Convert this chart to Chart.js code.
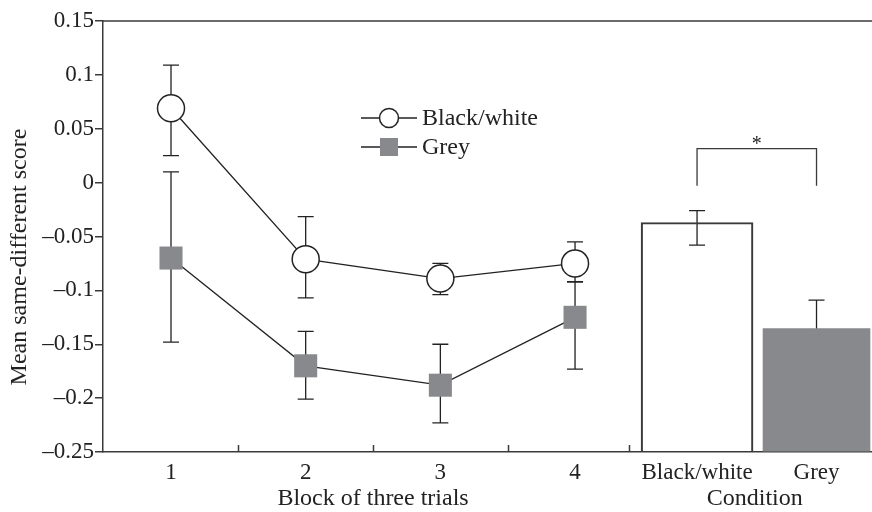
<!DOCTYPE html>
<html>
<head>
<meta charset="utf-8">
<script src="https://cdn.jsdelivr.net/npm/chart.js@4/dist/chart.umd.min.js"></script>
<style>
  html, body { margin: 0; padding: 0; background: #fff; }
  #wrap { width: 872px; height: 512px; position: relative; }
</style>
</head>
<body>
<div id="wrap"><canvas id="chart"></canvas></div>
<script>
// Blocks of three trials (left panel)
const blocks = ['1', '2', '3', '4'];
const bwMeans = [0.069, -0.071, -0.089, -0.075];
const bwUpper = [0.109, -0.0315, -0.075, -0.055];
const bwLower = [0.025, -0.107, -0.104, -0.092];
const greyMeans = [-0.070, -0.170, -0.188, -0.125];
const greyUpper = [0.010, -0.138, -0.150, -0.092];
const greyLower = [-0.148, -0.201, -0.223, -0.173];

// Condition means (right panel, bars)
const conditions = ['Black/white', 'Grey'];
const condMeans = [-0.037, -0.1355];
const condUpper = [-0.026, -0.109];
const condLower = [-0.058, -0.162];

// y axis
const yTicks = [0.15, 0.1, 0.05, 0, -0.05, -0.1, -0.15, -0.2, -0.25];

// layout on the shared x scale
const condX = [4.906, 5.793];
const dividers = [1.5, 2.5, 3.5, 4.4];
const yMin = -0.25, yMax = 0.15;

const FONT = '"Liberation Serif", "Times New Roman", serif';
const INK = '#222';
const AXIS = '#3a3a3a';
const GREY = '#88898d';

const fmt = v => {
  const s = String(parseFloat(v.toFixed(2)));
  return s.replace('-', '\u2013');
};

function errBar(ctx, x, yLo, yHi) {
  ctx.beginPath();
  ctx.moveTo(x, yLo); ctx.lineTo(x, yHi);
  ctx.moveTo(x - 8, yLo); ctx.lineTo(x + 8, yLo);
  ctx.moveTo(x - 8, yHi); ctx.lineTo(x + 8, yHi);
  ctx.stroke();
}

const extras = {
  id: 'extras',
  beforeDatasetsDraw(chart) {
    const { ctx, chartArea: a, scales: { x, y } } = chart;
    ctx.save();
    // top frame line
    ctx.strokeStyle = AXIS;
    ctx.lineWidth = 1.5;
    ctx.beginPath();
    ctx.moveTo(a.left, a.top); ctx.lineTo(a.right, a.top);
    ctx.stroke();
    // inward ticks between categories
    ctx.beginPath();
    dividers.forEach(d => {
      const px = Math.round(x.getPixelForValue(d)) + 0.5;
      ctx.moveTo(px, a.bottom); ctx.lineTo(px, a.bottom - 7);
    });
    ctx.stroke();

    // error bars (behind markers and bars)
    ctx.strokeStyle = INK;
    ctx.lineWidth = 1.3;
    blocks.forEach((b, i) => {
      const px = x.getPixelForValue(i + 1);
      errBar(ctx, px, y.getPixelForValue(bwLower[i]), y.getPixelForValue(bwUpper[i]));
      errBar(ctx, px, y.getPixelForValue(greyLower[i]), y.getPixelForValue(greyUpper[i]));
    });
    conditions.forEach((c, i) => {
      errBar(ctx, x.getPixelForValue(condX[i]), y.getPixelForValue(condLower[i]), y.getPixelForValue(condUpper[i]));
    });
    ctx.restore();
  },
  afterDatasetsDraw(chart) {
    const { ctx, scales: { x, y } } = chart;
    ctx.save();

    // significance bracket
    const bx1 = x.getPixelForValue(condX[0]);
    const bx2 = x.getPixelForValue(condX[1]);
    const by = y.getPixelForValue(0.0315);
    const byLow = y.getPixelForValue(-0.003);
    ctx.strokeStyle = AXIS;
    ctx.lineWidth = 1.3;
    ctx.beginPath();
    ctx.moveTo(bx1, byLow); ctx.lineTo(bx1, by); ctx.lineTo(bx2, by); ctx.lineTo(bx2, byLow);
    ctx.stroke();
    ctx.fillStyle = INK;
    ctx.font = '20px ' + FONT;
    ctx.textAlign = 'center';
    ctx.textBaseline = 'middle';
    ctx.fillText('*', (bx1 + bx2) / 2, by - 4);

    // legend
    ctx.font = '24px ' + FONT;
    ctx.textAlign = 'left';
    const lx = 361, lw = 56;
    [[118, 'Black/white', 'circle'], [147, 'Grey', 'rect']].forEach(([ly, label, kind]) => {
      ctx.strokeStyle = INK;
      ctx.lineWidth = 1.3;
      ctx.beginPath();
      ctx.moveTo(lx, ly); ctx.lineTo(lx + lw, ly);
      ctx.stroke();
      const cx = lx + lw / 2;
      if (kind === 'circle') {
        ctx.beginPath();
        ctx.arc(cx, ly, 9.5, 0, Math.PI * 2);
        ctx.fillStyle = '#fff';
        ctx.fill();
        ctx.lineWidth = 1.5;
        ctx.stroke();
      } else {
        ctx.fillStyle = GREY;
        ctx.fillRect(cx - 9, ly - 9, 18, 18);
      }
      ctx.fillStyle = INK;
      ctx.fillText(label, lx + lw + 5, ly + 1);
    });

    // axis titles
    ctx.textAlign = 'center';
    ctx.textBaseline = 'alphabetic';
    ctx.fillText('Block of three trials', (x.getPixelForValue(1) + x.getPixelForValue(4)) / 2, 505);
    ctx.fillText('Condition', (bx1 + bx2) / 2 - 2, 505);

    ctx.translate(20, 257);
    ctx.rotate(-Math.PI / 2);
    ctx.textBaseline = 'middle';
    ctx.fillText('Mean same-different score', 0, 0);
    ctx.restore();
  }
};

const tickValues = [1, 2, 3, 4, condX[0], condX[1]];
const tickLabels = [...blocks, ...conditions];

new Chart(document.getElementById('chart'), {
  type: 'line',
  data: {
    datasets: [
      {
        label: 'Black/white',
        data: bwMeans.map((v, i) => ({ x: i + 1, y: v })),
        borderColor: INK,
        borderWidth: 1.3,
        pointStyle: 'circle',
        pointRadius: 13.5,
        pointBackgroundColor: '#fff',
        pointBorderColor: INK,
        pointBorderWidth: 1.5,
        tension: 0
      },
      {
        label: 'Grey',
        data: greyMeans.map((v, i) => ({ x: i + 1, y: v })),
        borderColor: INK,
        borderWidth: 1.3,
        pointStyle: 'rect',
        pointRadius: 16.3,
        pointBackgroundColor: GREY,
        pointBorderColor: GREY,
        pointBorderWidth: 0,
        tension: 0
      },
      {
        type: 'bar',
        label: conditions[0],
        data: [{ x: condX[0], y: condMeans[0] }],
        base: yMin,
        backgroundColor: 'rgba(255,255,255,0)',
        borderColor: AXIS,
        borderWidth: 1.5,
        borderSkipped: 'start',
        barThickness: 112,
        grouped: false
      },
      {
        type: 'bar',
        label: conditions[1],
        data: [{ x: condX[1], y: condMeans[1] }],
        base: yMin,
        backgroundColor: GREY,
        borderWidth: 0,
        barThickness: 107,
        grouped: false
      }
    ]
  },
  options: {
    responsive: true,
    maintainAspectRatio: false,
    animation: false,
    layout: { autoPadding: false, padding: { top: 21, right: 0, left: 0, bottom: 0 } },
    plugins: { legend: { display: false }, tooltip: { enabled: false } },
    scales: {
      x: {
        type: 'linear',
        min: 0.495,
        max: 6.205,
        offset: false,
        afterFit: s => { s.height = 60; },
        afterBuildTicks: s => { s.ticks = tickValues.map(v => ({ value: v })); },
        ticks: {
          autoSkip: false,
          maxRotation: 0,
          padding: 7,
          color: INK,
          font: { family: FONT, size: 23 },
          callback: (v, i) => tickLabels[i]
        },
        grid: { display: false, drawTicks: false },
        border: { display: true, color: AXIS, width: 1.5 }
      },
      y: {
        min: yMin,
        max: yMax,
        afterFit: s => { s.width = 103; },
        afterBuildTicks: s => { s.ticks = yTicks.map(v => ({ value: v })); },
        ticks: {
          padding: 1,
          color: INK,
          font: { family: FONT, size: 23 },
          callback: v => fmt(v)
        },
        grid: { drawOnChartArea: false, drawTicks: true, tickLength: 8, color: AXIS, lineWidth: 1.5 },
        border: { display: true, color: AXIS, width: 1.5 }
      }
    }
  },
  plugins: [extras]
});
</script>
</body>
</html>
